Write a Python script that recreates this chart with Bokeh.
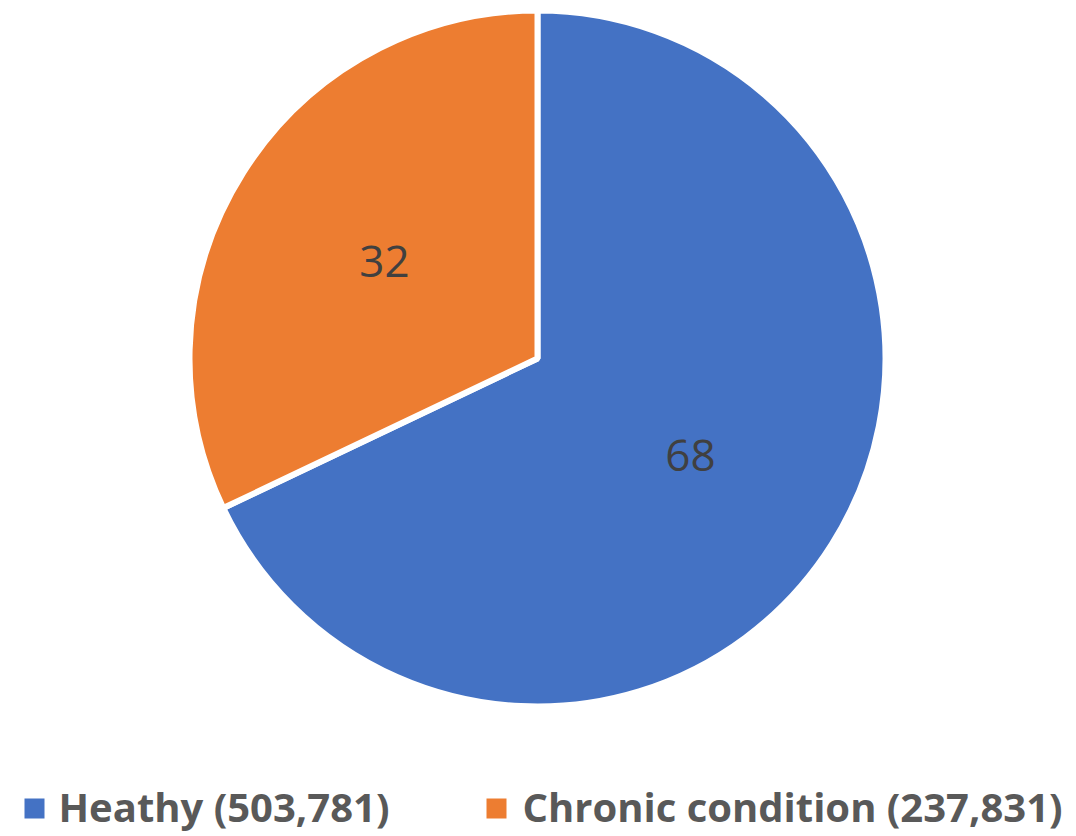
import math
from bokeh.plotting import figure
from bokeh.models import Range1d, ColumnDataSource
from bokeh.core.properties import value
from bokeh.embed import file_html
from bokeh.resources import INLINE

categories = ["Heathy", "Chronic condition"]
counts = [503781, 237831]
percent_labels = ["68", "32"]
colors = ["#4472C4", "#ED7D31"]

W, H = 1076, 836
p = figure(width=W, height=H, output_backend="svg", toolbar_location=None,
           x_range=Range1d(0, W), y_range=Range1d(0, H), min_border=0)
p.axis.visible = False
p.grid.visible = False
p.outline_line_color = None
p.background_fill_color = "white"
p.border_fill_color = "white"

cx, cy, R = 537, 478, 348
total = sum(counts)
cur = math.pi / 2
starts, ends, lx, ly = [], [], [], []
for c in counts:
    sweep = 2 * math.pi * c / total
    s, e = cur - sweep, cur
    starts.append(s)
    ends.append(e)
    mid = (s + e) / 2
    lx.append(cx + 0.52 * R * math.cos(mid))
    ly.append(cy + 0.52 * R * math.sin(mid))
    cur -= sweep

src = ColumnDataSource(dict(start=starts, end=ends, color=colors, lx=lx, ly=ly, lab=percent_labels))
p.wedge(x=cx, y=cy, radius=R, start_angle="start", end_angle="end",
        fill_color="color", line_color="white", line_width=6, source=src)
p.text(x="lx", y="ly", text="lab", source=src, text_font=value("Open Sans"),
       text_font_size="44px", text_color="#404040", text_align="center", text_baseline="middle")

# legend
leg_labels = [f"{c} ({n:,})" for c, n in zip(categories, counts)]
sq_x = [34, 496]
tx = [58, 522]
p.rect(x=sq_x, y=[28, 28], width=20, height=20, fill_color=colors, line_color=None)
p.text(x=tx, y=[30, 30], text=leg_labels, text_font=value("Open Sans"), text_font_size="40px",
       text_font_style="bold", text_color="#595959", text_align="left", text_baseline="middle")

open("out.html", "w").write(file_html(p, INLINE))
